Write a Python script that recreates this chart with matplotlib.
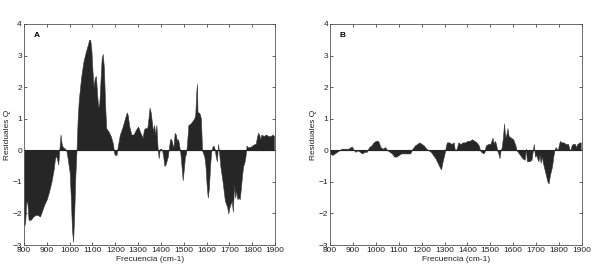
import numpy as np
import matplotlib.pyplot as plt

plt.rcParams['font.family'] = ['Liberation Sans', 'DejaVu Sans']

# Residuals (frequency in cm-1)
freq_a = [800, 805, 810, 815, 820, 830, 840, 850, 860, 870, 880, 890, 900, 910, 920,
          930, 935, 940, 945, 950, 955, 960, 965, 970, 980, 985, 990, 1000, 1005, 1010,
          1015, 1020, 1025, 1030, 1035, 1040, 1050, 1060, 1070, 1080, 1085, 1090, 1095,
          1100, 1105, 1110, 1115, 1120, 1125, 1130, 1135, 1140, 1145, 1150, 1155, 1160,
          1170, 1180, 1190, 1195, 1200, 1205, 1210, 1220, 1230, 1240, 1250, 1255, 1260,
          1270, 1280, 1290, 1300, 1310, 1320, 1325, 1330, 1340, 1345, 1350, 1355, 1360,
          1365, 1370, 1375, 1380, 1385, 1390, 1395, 1400, 1405, 1410, 1415, 1420, 1430,
          1435, 1440, 1445, 1450, 1455, 1460, 1465, 1470, 1475, 1480, 1485, 1490, 1495,
          1500, 1505, 1510, 1515, 1520, 1530, 1540, 1545, 1550, 1555, 1558, 1560, 1565,
          1570, 1575, 1580, 1590, 1595, 1600, 1605, 1610, 1615, 1620, 1625, 1630, 1635,
          1640, 1645, 1650, 1655, 1660, 1670, 1680, 1690, 1695, 1700, 1710, 1715, 1720,
          1725, 1730, 1735, 1740, 1745, 1750, 1755, 1760, 1765, 1770, 1775, 1780, 1790,
          1800, 1810, 1815, 1820, 1825, 1830, 1835, 1840, 1850, 1860, 1870, 1880, 1890,
          1895]
resid_a = [-2.4, -2.3, -1.6, -1.7, -2.2, -2.2, -2.1, -2.05, -2.05, -2.1, -1.9, -1.7,
           -1.55, -1.3, -1.0, -0.6, -0.3, -0.15, -0.3, -0.45, 0.05, 0.5, 0.2, 0.1, 0.05,
           0.0, -0.2, -0.7, -1.5, -2.5, -2.9, -2.0, -0.8, 0.0, 1.0, 1.6, 2.3, 2.8, 3.1,
           3.35, 3.5, 3.5, 3.2, 2.5, 2.0, 2.3, 2.35, 1.8, 1.35, 1.5, 2.2, 2.9, 3.05, 2.6,
           1.5, 0.7, 0.6, 0.45, 0.2, -0.1, -0.15, -0.15, 0.1, 0.5, 0.7, 0.95, 1.2, 1.1,
           0.8, 0.5, 0.5, 0.65, 0.75, 0.55, 0.4, 0.65, 0.7, 0.7, 1.0, 1.35, 1.2, 0.9, 0.6,
           0.8, 0.5, 0.8, 0.1, -0.25, 0.05, 0.05, 0.0, -0.2, -0.5, -0.45, -0.2, 0.1, 0.35,
           0.35, 0.2, 0.1, 0.55, 0.5, 0.3, 0.35, 0.15, -0.1, -0.5, -0.95, -0.6, -0.2,
           -0.1, 0.3, 0.8, 0.85, 0.95, 1.0, 1.1, 1.9, 2.1, 1.2, 1.2, 1.15, 1.0, 0.0, -0.2,
           -0.5, -1.1, -1.5, -1.2, -0.5, -0.05, 0.1, 0.15, 0.05, -0.2, -0.35, 0.2, -0.1,
           -0.5, -1.0, -1.6, -1.8, -2.0, -1.8, -1.6, -1.95, -1.1, -1.5, -1.3, -1.55, -1.5,
           -1.55, -1.2, -0.8, -0.5, -0.4, -0.2, 0.15, 0.1, 0.1, 0.15, 0.2, 0.2, 0.4, 0.55,
           0.5, 0.35, 0.5, 0.45, 0.5, 0.45, 0.45, 0.5, 0.45]

freq_b = [800, 810, 820, 830, 840, 850, 860, 870, 880, 890, 895, 900, 910, 920, 930,
          940, 950, 960, 970, 980, 990, 1000, 1010, 1020, 1030, 1040, 1045, 1050, 1060,
          1070, 1080, 1090, 1100, 1110, 1120, 1130, 1140, 1150, 1160, 1170, 1180, 1190,
          1200, 1210, 1220, 1230, 1240, 1250, 1260, 1270, 1280, 1285, 1290, 1300, 1305,
          1310, 1320, 1330, 1340, 1345, 1350, 1355, 1360, 1370, 1380, 1390, 1400, 1410,
          1420, 1430, 1440, 1450, 1455, 1460, 1470, 1475, 1480, 1490, 1500, 1505, 1510,
          1515, 1520, 1525, 1530, 1535, 1540, 1545, 1550, 1555, 1560, 1565, 1570, 1575,
          1580, 1590, 1600, 1610, 1615, 1620, 1630, 1640, 1650, 1655, 1660, 1670, 1680,
          1685, 1690, 1695, 1700, 1710, 1715, 1720, 1725, 1730, 1740, 1750, 1755, 1760,
          1770, 1775, 1780, 1785, 1790, 1795, 1800, 1805, 1810, 1820, 1830, 1840, 1845,
          1850, 1855, 1860, 1870, 1875, 1880, 1890, 1895]
resid_b = [-0.1, -0.15, -0.1, -0.05, 0.0, 0.05, 0.05, 0.05, 0.05, 0.1, 0.12, 0.05,
           -0.05, 0.0, -0.05, -0.1, -0.05, -0.05, 0.1, 0.15, 0.25, 0.3, 0.3, 0.1, 0.05,
           0.1, 0.05, 0.0, -0.05, -0.1, -0.2, -0.2, -0.15, -0.1, -0.1, -0.1, -0.1, -0.1,
           0.05, 0.15, 0.2, 0.25, 0.2, 0.15, 0.05, 0.0, -0.05, -0.15, -0.25, -0.4, -0.55,
           -0.6, -0.4, -0.1, 0.1, 0.25, 0.25, 0.2, 0.25, 0.0, 0.0, 0.1, 0.25, 0.2, 0.25,
           0.25, 0.3, 0.3, 0.35, 0.3, 0.25, 0.15, 0.0, -0.05, -0.1, -0.05, 0.15, 0.2, 0.2,
           0.3, 0.4, 0.2, 0.3, 0.2, 0.0, -0.1, -0.25, 0.0, 0.1, 0.4, 0.85, 0.4, 0.5, 0.7,
           0.45, 0.4, 0.35, 0.15, 0.0, -0.05, -0.15, -0.25, -0.3, 0.05, -0.35, -0.35, -0.3,
           -0.05, 0.2, -0.2, -0.15, -0.35, -0.15, -0.4, -0.2, -0.4, -0.7, -1.0, -1.05,
           -0.8, -0.5, -0.2, 0.0, 0.1, 0.05, 0.0, 0.2, 0.3, 0.25, 0.25, 0.2, 0.2, 0.05,
           0.0, 0.15, 0.2, 0.2, 0.1, 0.2, 0.25, 0.25]

xticks = [800, 900, 1000, 1100, 1200, 1300, 1400, 1500, 1600, 1700, 1800, 1900]
yticks = [-3, -2, -1, 0, 1, 2, 3, 4]

fig = plt.figure(figsize=(6.08, 2.77), dpi=100)
ax_a = fig.add_axes([0.0395, 0.1155, 0.413, 0.798])
ax_b = fig.add_axes([0.543, 0.1155, 0.414, 0.798])

for ax, f, r, tag in [(ax_a, freq_a, resid_a, "A"), (ax_b, freq_b, resid_b, "B")]:
    f = np.array(f)
    r = np.array(r)
    ax.fill_between(f, 0, r, color="#262626", linewidth=0.4, edgecolor="#3a3a3a")
    ax.axhline(0, color="#262626", linewidth=0.8)
    ax.set_xlim(800, 1900)
    ax.set_ylim(-3, 4)
    ax.set_xticks(xticks)
    ax.set_yticks(yticks)
    ax.tick_params(direction="in", top=True, right=True, length=2.5, width=0.5,
                   labelsize=6, pad=1.5, colors="#222222")
    for s in ax.spines.values():
        s.set_linewidth(0.6)
        s.set_color("#555555")
    ax.set_xlabel("Frecuencia (cm-1)", fontsize=6, labelpad=1.5, color="#222222")
    ax.set_ylabel("Residuales Q", fontsize=6, labelpad=1, color="#222222")
    ax.text(855, 3.62, tag, fontsize=6, fontweight="bold", ha="center", va="center")

plt.savefig("out.png", dpi=100)
